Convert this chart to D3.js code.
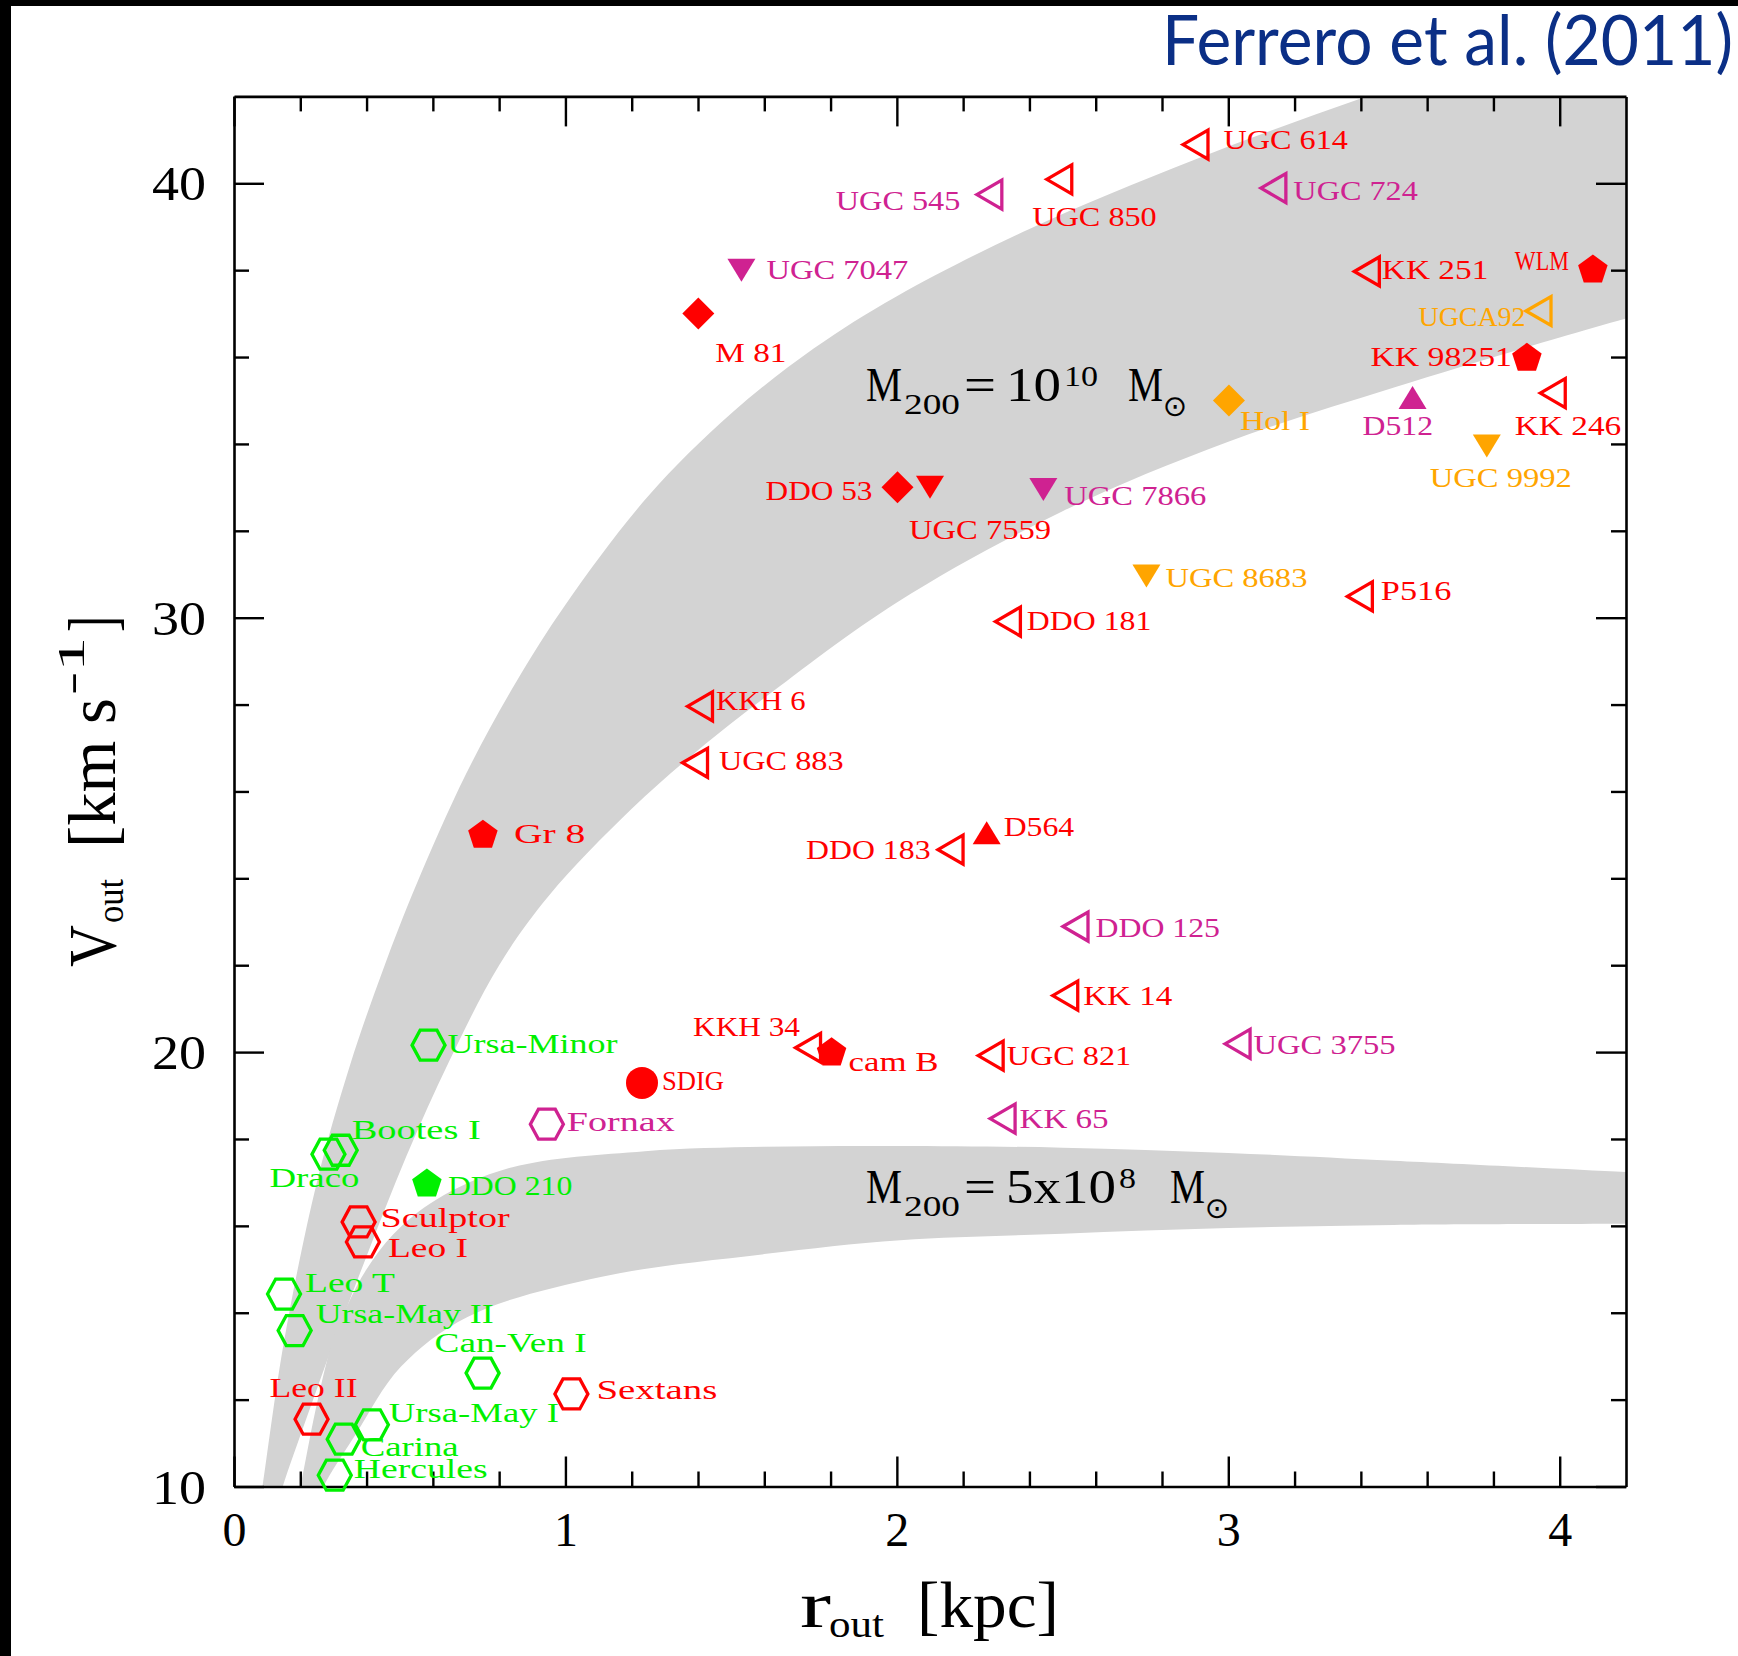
<!DOCTYPE html>
<html>
<head>
<meta charset="utf-8">
<title>Outer circular velocity versus outer radius of dwarf galaxies</title>
<script src="https://cdn.jsdelivr.net/npm/d3@7/dist/d3.min.js"></script>
<style>
  html, body { margin: 0; padding: 0; background: #fff; }
  svg { display: block; }
</style>
</head>
<body>
<svg id="chart" width="1738" height="1656"></svg>
<script>
// ---------------- data ----------------
const galaxyName = ["UGC 614","UGC 545","UGC 850","UGC 724","UGC 7047","KK 251","WLM","UGCA92",
  "M 81","KK 98251","Hol I","D512","KK 246","UGC 9992","DDO 53","UGC 7559","UGC 7866","UGC 8683",
  "P516","DDO 181","KKH 6","UGC 883","Gr 8","D564","DDO 183","DDO 125","KK 14","KKH 34","cam B",
  "UGC 821","UGC 3755","Ursa-Minor","SDIG","KK 65","Fornax","Bootes I","Draco","DDO 210",
  "Sculptor","Leo I","Leo T","Ursa-May II","Can-Ven I","Sextans","Leo II","Ursa-May I","Carina","Hercules"];

// outer radius [kpc]
const rOut = [2.901,2.279,2.490,3.136,1.531,3.418,4.100,3.936,
  1.401,3.901,3.002,3.556,3.979,3.780,2.002,2.100,2.442,2.753,
  3.397,2.335,1.406,1.391,0.751,2.271,2.162,2.539,2.508,1.732,1.803,
  2.283,3.028,0.587,1.231,2.319,0.944,0.322,0.285,0.582,
  0.376,0.389,0.151,0.183,0.750,1.018,0.234,0.416,0.331,0.304];

// outer circular velocity [km/s]
const vOut = [40.89,39.74,40.09,39.89,38.00,37.97,38.03,37.06,
  37.00,36.00,35.00,35.07,35.17,33.95,33.00,33.00,32.95,30.96,
  30.49,29.91,27.96,26.66,25.02,25.05,24.66,22.89,21.30,20.10,20.01,
  19.92,20.19,20.16,19.29,18.47,18.34,17.74,17.65,16.99,
  16.09,15.63,14.43,13.59,12.61,12.13,11.55,11.42,11.09,10.26];

// symbol class of each galaxy
const markerKind = ["triL","triL","triL","triL","triD","triL","pent","triL",
  "diam","pent","diam","triU","triL","triD","diam","triD","triD","triD",
  "triL","triL","triL","triL","pent","triU","triL","triL","triL","triL","pent",
  "triL","triL","hex","circ","triL","hex","hex","hex","pent",
  "hex","hex","hex","hex","hex","hex","hex","hex","hex","hex"];

// sample each galaxy belongs to
const sample = ["A","B","A","B","B","A","A","C",
  "A","A","C","B","A","C","A","A","B","C",
  "A","A","A","A","A","A","A","B","A","A","A",
  "A","B","D","A","B","B","D","D","D",
  "A","A","D","D","D","A","A","D","D","D"];

// NFW rotation-curve bands: M200 = 1e10 Msun
const bandHiOuterR = [0.074,0.086,0.15,0.25,0.35,0.45,0.55,0.70,0.85,1.0,1.25,1.5,1.75,2.0,2.4,2.9,3.4,3.9,4.3];
const bandHiOuterV = [9.4,10.0,13.3,17.0,19.7,21.9,23.85,26.4,28.5,30.3,32.8,34.7,36.2,37.4,38.95,40.55,41.95,43.2,44.1];
const bandHiInnerR = [0.125,0.147,0.22,0.30,0.40,0.52,0.65,0.80,0.95,1.2,1.4,1.6,2.0,2.5,3.0,3.5,4.0,4.3];
const bandHiInnerV = [9.4,10.0,11.6,13.3,15.3,17.6,19.8,22.0,23.6,25.6,26.95,28.15,30.35,32.45,34.05,35.3,36.45,37.1];
// M200 = 5e8 Msun
const bandLoUpperR = [0.18,0.20,0.25,0.30,0.35,0.40,0.48,0.61,0.84,1.24,1.6,2.0,2.5,3.0,3.5,4.3];
const bandLoUpperV = [9.4,10.0,11.9,13.4,14.3,15.0,15.8,16.6,17.35,17.72,17.82,17.84,17.8,17.68,17.5,17.2];
const bandLoLowerR = [0.25,0.27,0.369,0.504,0.706,1.11,1.6,2.01,2.5,3.0,3.5,4.3];
const bandLoLowerV = [9.6,10.0,11.22,12.76,13.91,14.83,15.35,15.67,15.82,15.95,16.02,16.05];

const xTickValues = [0, 1, 2, 3, 4];
const xTickLabels = ["0", "1", "2", "3", "4"];
const yTickValues = [10, 20, 30, 40];
const yTickLabels = ["10", "20", "30", "40"];

// ---------------- label layout: [dx, dy, anchor] from the symbol centre ----------------
const labelPlacement = [
  [28,4,"s"],[-29,15,"e"],[-27,47,"s"],[20,12,"s"],[25,9,"s"],[15,8,"s"],[-24,1,"e"],[-13,15,"e"],
  [17,48,"s"],[-15,9,"e"],[11,30,"s"],[-50,38,"s"],[-38,42,"s"],[-57,41,"s"],[-25,13,"e"],[-21,52,"s"],[21,15,"s"],[19,11,"s"],
  [21,4,"s"],[19,8,"s"],[16,4,"s"],[24,7,"s"],[31,9,"s"],[17,3,"s"],[-20,9,"e"],[20,10,"s"],[18,9,"s"],[-8,-12,"e"],[17,19,"s"],
  [16,9,"s"],[16,10,"s"],[19,8,"s"],[20,7,"s"],[17,9,"s"],[20,7,"s"],[11,-11,"s"],[-59,33,"s"],[21,12,"s"],
  [22,5,"s"],[25,15,"s"],[21,-2,"s"],[21,-8,"s"],[-48,-21,"s"],[25,5,"s"],[-42,-22,"s"],[17,-3,"s"],[17,17,"s"],[19,3,"s"]
];

// ---------------- setup ----------------
const svg = d3.select("#chart");
const W = 1738, H = 1656;
const plot = { left: 234, right: 1626, top: 96.4, bottom: 1486.5 };

const x = d3.scaleLinear().domain([0, 4.2]).range([plot.left, plot.right]);
const y = d3.scaleLinear().domain([10, 42]).range([plot.bottom, plot.top]);
const colour = d3.scaleOrdinal().domain(["A","B","C","D"]).range(["#ff0000","#cf2291","#ffa500","#00f000"]);

const SERIF = "'Liberation Serif','Times New Roman',serif";

svg.append("rect").attr("width", W).attr("height", H).attr("fill", "#fff");
// dark border strips along the top and left edge
svg.append("rect").attr("x", 0).attr("y", 0).attr("width", W).attr("height", 6).attr("fill", "#000");
svg.append("rect").attr("x", 0).attr("y", 0).attr("width", 11).attr("height", H).attr("fill", "#000");

// citation
svg.append("text")
  .attr("x", 1162).attr("y", 65)
  .attr("font-family", "Lato, 'Open Sans', sans-serif")
  .attr("font-size", 70)
  .attr("fill", "#0b2f86")
  .attr("textLength", 571).attr("lengthAdjust", "spacingAndGlyphs")
  .text("Ferrero et al. (2011)");

// ---------------- shaded bands ----------------
svg.append("clipPath").attr("id", "plotClip")
  .append("rect")
  .attr("x", plot.left).attr("y", plot.top)
  .attr("width", plot.right - plot.left).attr("height", plot.bottom - plot.top);

const edge = d3.line().x(d => x(d[0])).y(d => y(d[1])).curve(d3.curveCatmullRom.alpha(0.5));
function bandPath(r1, v1, r2, v2) {
  const a = d3.zip(r1, v1);
  const b = d3.zip(r2, v2).reverse();
  return edge(a) + edge(b).replace(/^M/, "L") + "Z";
}
const bands = svg.append("g").attr("clip-path", "url(#plotClip)");
bands.append("path").attr("d", bandPath(bandHiOuterR, bandHiOuterV, bandHiInnerR, bandHiInnerV)).attr("fill", "#d3d3d3");
bands.append("path").attr("d", bandPath(bandLoUpperR, bandLoUpperV, bandLoLowerR, bandLoLowerV)).attr("fill", "#d3d3d3");

// ---------------- frame and ticks ----------------
const xMinor = d3.range(1, 21).map(i => +(i * 0.2).toFixed(1)).filter(v => Math.abs(v - Math.round(v)) > 1e-6);
const yMinor = d3.range(12, 42, 2).filter(v => v % 10 !== 0);

function styleAxis(g) {
  g.selectAll("path.domain").attr("stroke", "#000").attr("stroke-width", 2.6);
  g.selectAll(".tick line").attr("stroke", "#000").attr("stroke-width", 2.4);
}

const axes = svg.append("g");
// bottom
const gBottom = axes.append("g").attr("transform", `translate(0,${plot.bottom})`)
  .call(d3.axisBottom(x).tickValues(xTickValues).tickSize(-30).tickSizeOuter(0)
    .tickFormat((d, i) => xTickLabels[i]));
gBottom.selectAll("text").attr("y", 59.5).attr("dy", null)
  .attr("font-family", SERIF).attr("font-size", 48).attr("fill", "#000");
axes.append("g").attr("transform", `translate(0,${plot.bottom})`)
  .call(d3.axisBottom(x).tickValues(xMinor).tickSize(-15).tickSizeOuter(0).tickFormat(""))
  .call(g => g.select("path.domain").remove()).call(styleAxis);
styleAxis(gBottom);
// top
axes.append("g").attr("transform", `translate(0,${plot.top})`)
  .call(d3.axisTop(x).tickValues(xTickValues).tickSize(-30).tickSizeOuter(0).tickFormat("")).call(styleAxis);
axes.append("g").attr("transform", `translate(0,${plot.top})`)
  .call(d3.axisTop(x).tickValues(xMinor).tickSize(-15).tickSizeOuter(0).tickFormat(""))
  .call(g => g.select("path.domain").remove()).call(styleAxis);
// left
const gLeft = axes.append("g").attr("transform", `translate(${plot.left},0)`)
  .call(d3.axisLeft(y).tickValues(yTickValues).tickSize(-30).tickSizeOuter(0)
    .tickFormat((d, i) => yTickLabels[i]));
gLeft.selectAll("text").attr("x", -28).attr("y", 16.5).attr("dy", null)
  .attr("text-anchor", "end")
  .attr("font-family", SERIF).attr("font-size", 48).attr("fill", "#000")
  .attr("textLength", 54).attr("lengthAdjust", "spacingAndGlyphs");
styleAxis(gLeft);
axes.append("g").attr("transform", `translate(${plot.left},0)`)
  .call(d3.axisLeft(y).tickValues(yMinor).tickSize(-15).tickSizeOuter(0).tickFormat(""))
  .call(g => g.select("path.domain").remove()).call(styleAxis);
// right
axes.append("g").attr("transform", `translate(${plot.right},0)`)
  .call(d3.axisRight(y).tickValues(yTickValues).tickSize(-30).tickSizeOuter(0).tickFormat("")).call(styleAxis);
axes.append("g").attr("transform", `translate(${plot.right},0)`)
  .call(d3.axisRight(y).tickValues(yMinor).tickSize(-15).tickSizeOuter(0).tickFormat(""))
  .call(g => g.select("path.domain").remove()).call(styleAxis);

// ---------------- symbols ----------------
function polygonType(points) {
  return {
    draw(ctx, size) {
      const k = Math.sqrt(size) / 16;
      points.forEach((p, i) => i ? ctx.lineTo(p[0] * k, p[1] * k) : ctx.moveTo(p[0] * k, p[1] * k));
      ctx.closePath();
    }
  };
}
const pentPts = d3.range(5).map(i => {
  const a = -Math.PI / 2 + i * 2 * Math.PI / 5;
  return [15.5 * Math.cos(a), 15.5 * Math.sin(a) + 1.2];
});
const symbolTypes = {
  hex:  polygonType([[16.5,0],[8.4,15],[-8.4,15],[-16.5,0],[-8.4,-15],[8.4,-15]]),
  triL: polygonType([[-12.5,0],[12.5,-14.5],[12.5,14.5]]),
  triD: polygonType([[-14,-11.5],[14,-11.5],[0,11.5]]),
  triU: polygonType([[0,-11.5],[14,11.5],[-14,11.5]]),
  diam: polygonType([[0,-16],[16,0],[0,16],[-16,0]]),
  pent: polygonType(pentPts),
  circ: { draw(ctx, size) { const r = Math.sqrt(size); ctx.moveTo(r, 0); ctx.arc(0, 0, r, 0, 2 * Math.PI); } }
};
const openKinds = new Set(["hex", "triL"]);
const symbolSize = { circ: 256 };

const rows = galaxyName.map((name, i) => ({
  name, r: rOut[i], v: vOut[i], kind: markerKind[i], grp: sample[i], place: labelPlacement[i]
}));

const marks = svg.append("g");
marks.selectAll("path")
  .data(rows)
  .join("path")
  .attr("transform", d => `translate(${x(d.r)},${y(d.v)})`)
  .attr("d", d => d3.symbol().type(symbolTypes[d.kind]).size(symbolSize[d.kind] || 256)())
  .attr("fill", d => openKinds.has(d.kind) ? "none" : colour(d.grp))
  .attr("stroke", d => openKinds.has(d.kind) ? colour(d.grp) : "none")
  .attr("stroke-width", 3.3)
  .attr("stroke-linejoin", "miter");

// label widths: most glyphs share one advance, narrow letters are thinner
function labelAdvance(s) {
  let w = 0;
  for (const c of s) {
    if ("Iil".includes(c)) w += 8;
    else if (c === "t") w += 13;
    else if (/[0-9]/.test(c)) w += 17.5;
    else w += 18;
  }
  return w;
}

svg.append("g").selectAll("text")
  .data(rows)
  .join("text")
  .attr("x", d => x(d.r) + d.place[0])
  .attr("y", d => y(d.v) + d.place[1])
  .attr("text-anchor", d => d.place[2] === "e" ? "end" : "start")
  .attr("font-family", SERIF)
  .attr("font-size", 28)
  .attr("fill", d => colour(d.grp))
  .attr("textLength", d => labelAdvance(d.name))
  .attr("lengthAdjust", "spacingAndGlyphs")
  .text(d => d.name);

// ---------------- band annotations ----------------
function writePieces(g, pieces) {
  pieces.forEach(p => {
    g.append("text")
      .attr("x", p[1]).attr("y", p[2])
      .attr("font-family", SERIF).attr("font-size", p[3]).attr("fill", "#000")
      .attr("textLength", p[4]).attr("lengthAdjust", "spacingAndGlyphs")
      .text(p[0]);
  });
}
function sunSymbol(g, cx, cy) {
  g.append("text")
    .attr("x", cx).attr("y", cy)
    .attr("text-anchor", "middle").attr("dominant-baseline", "central")
    .attr("font-family", "'DejaVu Sans', sans-serif").attr("font-size", 29).attr("fill", "#000")
    .text("\u2299");
}
const ann = svg.append("g");
writePieces(ann, [
  ["M", 866, 401, 48, 36],
  ["200", 904, 414, 30, 56],
  ["=", 964, 401, 48, 32],
  ["10", 1006, 401, 48, 55],
  ["10", 1064, 386, 30, 34],
  ["M", 1128, 401, 48, 35]
]);
sunSymbol(ann, 1175, 406);
writePieces(ann, [
  ["M", 866, 1203, 48, 36],
  ["200", 904, 1216, 30, 56],
  ["=", 964, 1203, 48, 32],
  ["5x10", 1006, 1203, 48, 110],
  ["8", 1119, 1188, 30, 17],
  ["M", 1170, 1203, 48, 35]
]);
sunSymbol(ann, 1217, 1208);

// ---------------- axis titles ----------------
writePieces(svg.append("g"), [
  ["r", 800, 1627, 66, 31],
  ["out", 829, 1637, 38, 55],
  ["[kpc]", 917, 1627, 66, 142]
]);
const yTitle = svg.append("g").attr("transform", "rotate(-90)");
writePieces(yTitle, [
  ["V", -967, 115, 68, 42],
  ["out", -923, 123, 38, 44],
  ["[km s", -848, 115, 68, 150],
  ["-1", -695, 84, 38, 58],
  ["]", -632, 115, 68, 16]
]);
</script>
</body>
</html>
